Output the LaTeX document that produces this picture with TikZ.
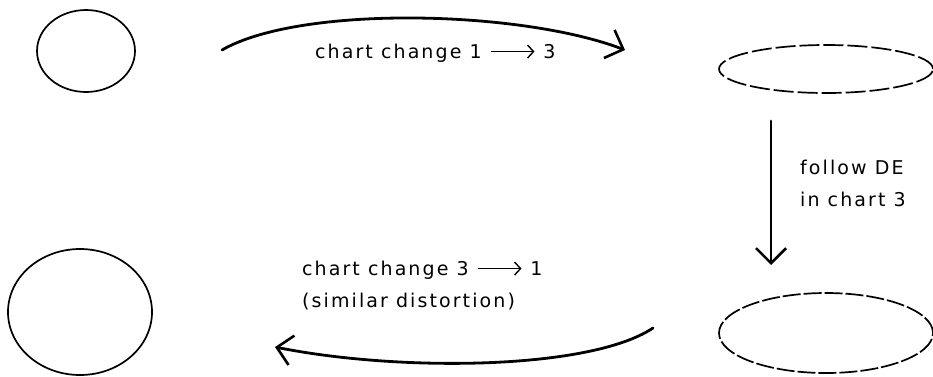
\documentclass[tikz,border=0pt]{standalone}
\usepackage{fontspec}
\setmainfont{DejaVu Sans}[LetterSpace=11.0]
\usetikzlibrary{shapes.geometric,arrows.meta}
\tikzset{
  blob/.style={ellipse, draw, line width=1.7pt, inner sep=0pt},
  dblob/.style={blob, dash pattern=on 20pt off 4pt},
  flow/.style={line width=2.8pt, line cap=round, -{Straight Barb[length=15pt,width=30pt,line width=2.6pt]}},
  lbl/.style={anchor=base west, inner sep=0pt, font=\fontsize{19}{32}\selectfont}
}
\newcommand{\txtarrow}{\tikz[baseline=-0.62ex]\draw[line width=1.4pt,-{Straight Barb[length=6pt,width=13pt,line width=1.4pt]}] (0,0)--(44pt,0);}
\begin{document}
\begin{tikzpicture}[x=1pt,y=-1pt]
\useasboundingbox (0,0) rectangle (933,376);
\node[blob, minimum width=98pt, minimum height=82pt] (A) at (86,51) {};
\node[dblob, minimum width=214pt, minimum height=48pt] (B) at (826,69) {};
\node[dblob, dash pattern=on 18pt off 3pt, minimum width=214pt, minimum height=80pt] (C) at (826,333) {};
\node[blob, minimum width=144pt, minimum height=126pt] (D) at (80,312) {};
\coordinate (ts) at (222,50);
\coordinate (te) at (625,50);
\coordinate (vs) at (771,121);
\coordinate (ve) at (771,265);
\coordinate (bs) at (653,328);
\coordinate (be) at (275,347);
\draw[flow] (ts) .. controls (300,5) and (520,10) .. (te);
\draw[flow] (vs) -- (ve);
\draw[flow] (bs) .. controls (590,370) and (400,372) .. (be);
\node[lbl] (t1) at (315,58) {chart change 1 \txtarrow\ 3};
\node[lbl] (r1) at (800,174) {follow DE};
\node[lbl] (r2) at (800,206) {in chart 3};
\node[lbl] (b1) at (302,275) {chart change 3 \txtarrow\ 1};
\node[lbl] (b2) at (302,307) {(similar distortion)};
\end{tikzpicture}
\end{document}
